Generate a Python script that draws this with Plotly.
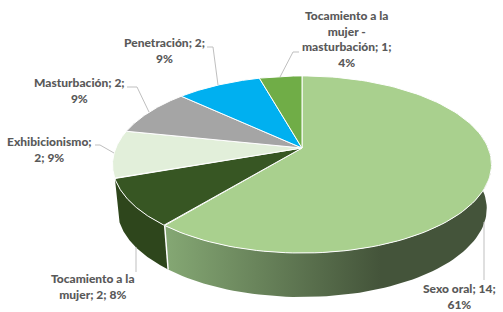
import numpy as np
import plotly.graph_objects as go

categories = ["Sexo oral", "Tocamiento a la mujer", "Exhibicionismo", "Masturbación",
              "Penetración", "Tocamiento a la mujer - masturbación"]
values = [14, 2, 2, 2, 2, 1]
colors = ["#A9D08E", "#375623", "#E2EFDA", "#A5A5A5", "#00B0F0", "#70AD47"]
label_texts = ["Sexo oral; 14;<br>61%", "Tocamiento a la<br>mujer; 2; 8%", "Exhibicionismo;<br>2; 9%",
               "Masturbación; 2;<br>9%", "Penetración; 2;<br>9%",
               "Tocamiento a la<br>mujer -<br>masturbación; 1;<br>4%"]
label_pos = [(459, 296), (93, 286), (49, 149), (79, 90), (164, 50), (347, 39)]
leaders = [[(484, 222), (484, 280)], [(136, 247), (136, 272)], [(114, 153), (100, 145), (95, 145)],
           [(149, 112), (137, 87), (127, 87)], [(218, 85), (213, 47), (207, 47)],
           [(280, 77), (293, 52), (299, 52)]]

CX, CY, A, B, K = 302.0, 148.0, 186.2, 85.5, 0.186
DEPTH, SHRINK = 44.0, 0.975


def project(theta):
    u, v = np.sin(theta), -np.cos(theta)
    s = 1 / (1 - K * v)
    return CX + A * u * s, CY + B * v * s


def side(a, b):
    t = np.linspace(a, b, 80)
    x, y = project(t)
    xb = CX + (x - CX) * SHRINK
    yb = y + DEPTH
    return np.r_[x, xb[::-1], x[0]], np.r_[y, yb[::-1], y[0]]


fractions = np.array(values) / sum(values)
edges = np.r_[0, np.cumsum(fractions)] * 2 * np.pi

fig = go.Figure()

sx, sy = side(np.pi * 0.45, edges[1])
fig.add_trace(go.Scatter(x=sx, y=sy, mode="lines", line=dict(width=0), fill="toself",
                         fillgradient=dict(type="horizontal",
                                           colorscale=[[0, "#85A874"], [0.66, "#44543A"], [1, "#44543A"]]),
                         hoverinfo="skip"))
sx, sy = side(edges[1], edges[2])
fig.add_trace(go.Scatter(x=sx, y=sy, mode="lines", line=dict(width=0), fill="toself",
                         fillcolor="#2E461C", hoverinfo="skip"))
ex, ey = project(edges[1])
fig.add_trace(go.Scatter(x=[ex, CX + (ex - CX) * SHRINK], y=[ey, ey + DEPTH], mode="lines",
                         line=dict(color="#FFFFFF", width=1.5), hoverinfo="skip"))

for i, cat in enumerate(categories):
    t = np.linspace(edges[i], edges[i + 1], 120)
    x, y = project(t)
    fig.add_trace(go.Scatter(x=np.r_[CX, x, CX], y=np.r_[CY, y, CY], mode="lines", name=cat,
                             fill="toself", fillcolor=colors[i], hoverinfo="skip",
                             line=dict(color="#FFFFFF", width=1)))

for pts in leaders:
    fig.add_trace(go.Scatter(x=[p[0] for p in pts], y=[p[1] for p in pts], mode="lines",
                             line=dict(color="#BFBFBF", width=1), hoverinfo="skip"))

for text, (lx, ly) in zip(label_texts, label_pos):
    fig.add_annotation(x=lx, y=ly, text=text, showarrow=False, xanchor="center", yanchor="middle",
                       align="center", font=dict(family="Lato", size=12, color="#595959", weight=900))

fig.update_layout(width=503, height=312, margin=dict(l=0, r=0, t=0, b=0), showlegend=False,
                  paper_bgcolor="#FFFFFF", plot_bgcolor="#FFFFFF",
                  xaxis=dict(range=[0, 503], visible=False, fixedrange=True),
                  yaxis=dict(range=[312, 0], visible=False, fixedrange=True))
fig.write_html("out.html", post_script="document.body.style.margin='0';", config={"displayModeBar": False})
